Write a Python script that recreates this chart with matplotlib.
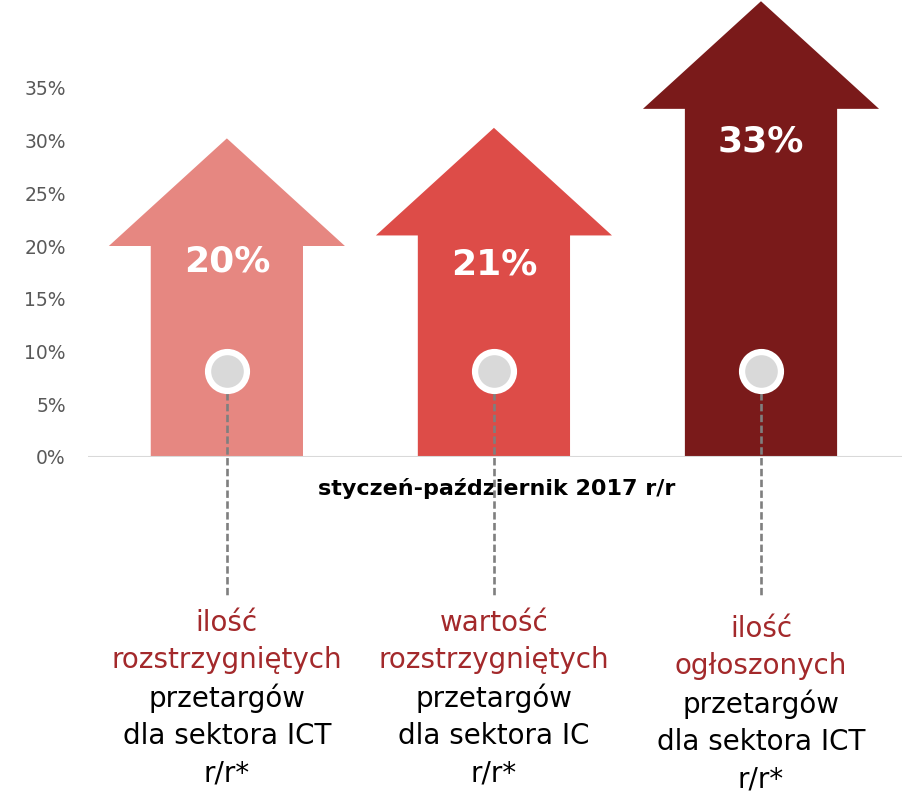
import matplotlib
matplotlib.use("Agg")
import matplotlib.pyplot as plt
from matplotlib.patches import Polygon
from matplotlib import transforms

# data
values = [20, 21, 33]
value_labels = ["20%", "21%", "33%"]
red_lines = [["ilość", "rozstrzygniętych"],
             ["wartość", "rozstrzygniętych"],
             ["ilość", "ogłoszonych"]]
black_lines = [["przetargów", "dla sektora ICT", "r/r*"],
               ["przetargów", "dla sektora IC", "r/r*"],
               ["przetargów", "dla sektora ICT", "r/r*"]]
period = "styczeń-październik 2017 r/r"
yticks = [0, 5, 10, 15, 20, 25, 30, 35]

# styling
colors = ["#E68781", "#DD4C48", "#7A1A1A"]
label_drop = [1.5, 2.8, 3.1]
label_shift = [0, 0, 6]   # px, third caption sits a bit lower
head_len = 10.2
body_hw = 0.285
head_hw = 0.442
marker_y = 8.15

W, H = 907, 793
fig = plt.figure(figsize=(W / 100, H / 100), dpi=100)
ax = fig.add_axes([88 / W, (H - 457) / H, (902 - 88) / W, 457 / H])
ax.set_xlim(-0.52, 2.528)
ax.set_ylim(0, 457 / 10.55)

for i, v in enumerate(values):
    pts = [(i - body_hw, 0), (i - body_hw, v), (i - head_hw, v), (i, v + head_len),
           (i + head_hw, v), (i + body_hw, v), (i + body_hw, 0)]
    ax.add_patch(Polygon(pts, closed=True, facecolor=colors[i], edgecolor="none",
                         zorder=2, clip_on=False))
    ax.text(i, v - label_drop[i], value_labels[i], color="white", fontsize=26,
            fontweight="bold", ha="center", va="center", zorder=5)
    # dashed leader line down to the caption
    ax.plot([i, i], [marker_y, -13.3], color="#7F7F7F", lw=1.9,
            dashes=(2.8, 1.3), clip_on=False, zorder=3)
    ax.plot(i, marker_y, marker="o", markersize=28, markerfacecolor="#D9D9D9",
            markeredgecolor="white", markeredgewidth=4.5, zorder=4, clip_on=False)

ax.axhline(0, color="#D9D9D9", lw=1.5, zorder=2.5)

ax.set_yticks(yticks)
ax.set_yticklabels([f"{t}%" for t in yticks])
ax.tick_params(axis="y", length=0, pad=16, labelsize=13.5, labelcolor="#595959")
ax.set_xticks([])
for s in ax.spines.values():
    s.set_visible(False)

# captions under the chart
trans = transforms.blended_transform_factory(ax.transData, fig.transFigure)
ax.text(1.01, 1 - 489 / H, period, transform=trans, ha="center", va="center",
        fontsize=16, fontweight="bold", color="black", zorder=1)

step = 37.5
for i in range(len(values)):
    y0 = 623 + label_shift[i]
    lines = [(t, "#A3292B") for t in red_lines[i]] + [(t, "black") for t in black_lines[i]]
    for k, (txt, c) in enumerate(lines):
        ax.text(i, 1 - (y0 + k * step) / H, txt, transform=trans, ha="center",
                va="center", fontsize=20, color=c)

fig.savefig("out.png", dpi=100)
